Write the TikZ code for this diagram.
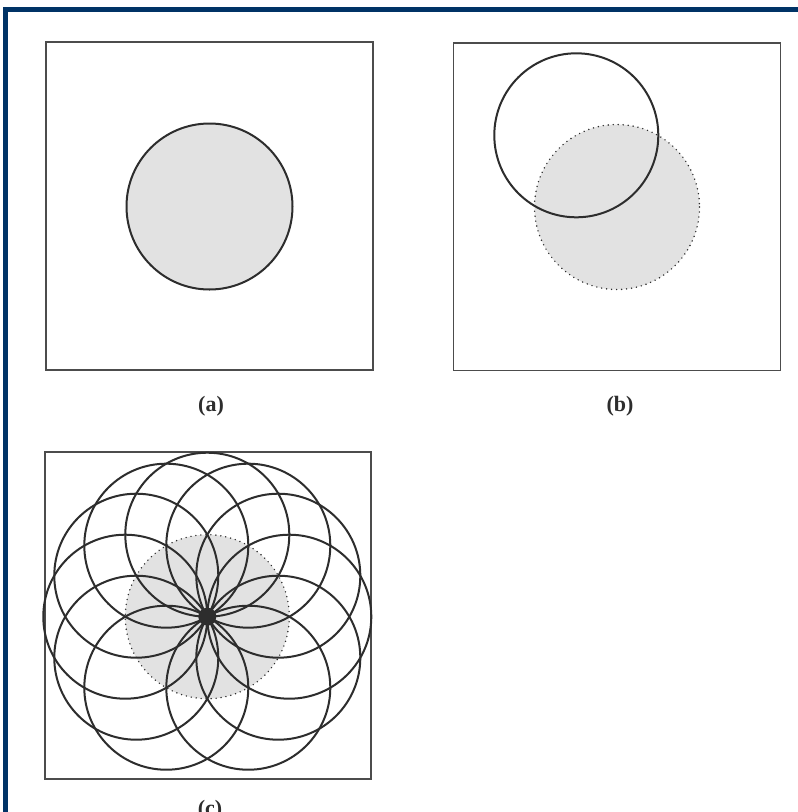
\documentclass[tikz,border=0pt]{standalone}
\usepackage{fontspec}
\setmainfont{Liberation Serif}
\definecolor{navy}{RGB}{0,51,102}
\definecolor{fillgray}{RGB}{226,226,226}
\definecolor{ink}{RGB}{45,45,45}
\begin{document}
\begin{tikzpicture}[x=1pt,y=-1pt,
  frame/.style={draw=ink!85, line width=1.8pt},
  ring/.style={draw=ink, line width=2pt},
  shade/.style={fill=fillgray},
  dotring/.style={draw=ink, line width=1.6pt, line cap=round, dash pattern=on 0pt off 5pt},
  lab/.style={font=\fontsize{22}{26}\selectfont\bfseries, text=ink, inner sep=0pt, anchor=base}]
\useasboundingbox (0,0) rectangle (798,812);
\fill[white] (0,0) rectangle (798,812);
\fill[navy] (3,7) rectangle (8.3,812);
\fill[navy] (3,7) rectangle (798,11.7);
% (a)
\draw[frame] (46,42) rectangle (373,370);
\filldraw[shade, ring] (209.5,206.5) circle[radius=83];
\node[lab] (la) at (211,411) {(a)};
% (b)
\draw[frame] (453.5,43) rectangle (780.5,370.5);
\fill[shade] (617,207) circle[radius=82.5];
\draw[dotring] (617,207) circle[radius=82.5];
\draw[ring] (576.3,135.3) circle[radius=82];
\node[lab] (lb) at (620,411) {(b)};
% (c)
\draw[frame] (45,452) rectangle (371,779);
\coordinate (O) at (207.3,616.7);
\fill[shade] (O) circle[radius=82];
\draw[dotring] (O) circle[radius=82];
\foreach \a in {0,30,60,120,150,180,210,240,270,300,330}
  \draw[ring] (O) ++(\a:82) circle[radius=82];
\fill[ink] (O) circle[radius=9];
\node[lab] (lc) at (210,815) {(c)};
\end{tikzpicture}
\end{document}
